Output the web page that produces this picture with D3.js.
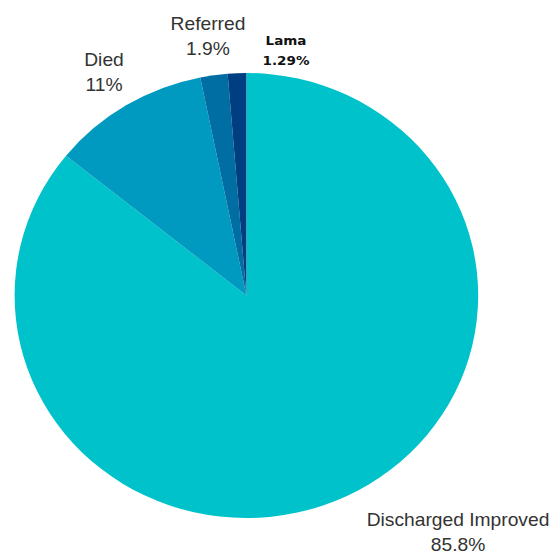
<!DOCTYPE html>
<html><head><meta charset="utf-8">
<script src="https://cdn.jsdelivr.net/npm/d3@7"></script>
<style>body{margin:0;background:#fff}</style>
</head><body>
<svg id="c" width="553" height="555"></svg>
<script>
const categories = ["Discharged Improved", "Died", "Referred", "Lama"];
const values = [85.8, 11, 1.9, 1.29];
const valueLabels = ["85.8%", "11%", "1.9%", "1.29%"];
const colors = ["#00C2CB", "#009AC0", "#006DA3", "#003E82"];

const svg = d3.select("#c");
const cx = 246.4, cy = 295.5, rx = 231.8, ry = 222.5;
const pie = d3.pie().sort(null).value(d => d)(values);
const arc = d3.arc().innerRadius(0).outerRadius(rx);
const g = svg.append("g").attr("transform", `translate(${cx},${cy}) scale(1,${ry/rx})`);
g.selectAll("path").data(pie).join("path")
  .attr("d", arc).attr("fill", (d,i) => colors[i]);

const labelPos = [
  {x: 458, y: 526, gap: 25, size: 18.5, bold: false},
  {x: 104, y: 66, gap: 25.5, size: 18.5, bold: false},
  {x: 208, y: 30, gap: 25, size: 18.5, bold: false},
  {x: 286, y: 45, gap: 20, size: 13, bold: true}
];
categories.forEach((c, i) => {
  const p = labelPos[i];
  const t = svg.append("g").attr("transform", `translate(${p.x},0) scale(1.04,1)`)
    .append("text").attr("text-anchor", "middle")
    .attr("font-family", p.bold ? "DejaVu Sans, sans-serif" : "Liberation Sans, Arial, sans-serif")
    .attr("font-size", p.size).attr("font-weight", p.bold ? "bold" : "normal")
    .attr("fill", p.bold ? "#111" : "#333");
  t.append("tspan").attr("x", 0).attr("y", p.y).text(c);
  t.append("tspan").attr("x", 0).attr("y", p.y + p.gap).text(valueLabels[i]);
});
</script>
</body></html>
